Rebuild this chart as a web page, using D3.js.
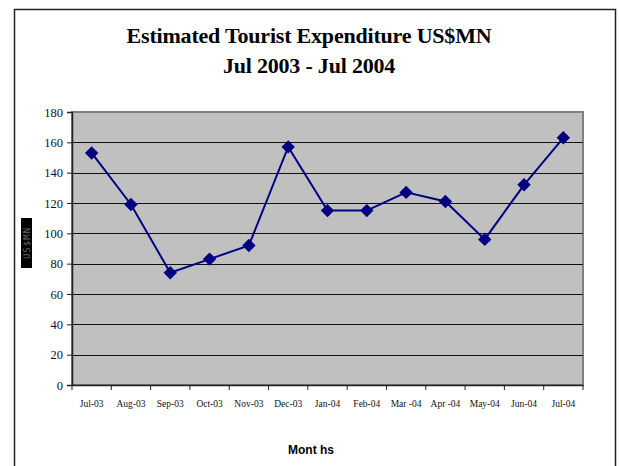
<!DOCTYPE html>
<html><head><meta charset="utf-8">
<script src="https://cdn.jsdelivr.net/npm/d3@7"></script>
<style>body{margin:0;background:#fff}svg{display:block}</style>
</head><body>
<script>
const months = ["Jul-03","Aug-03","Sep-03","Oct-03","Nov-03","Dec-03","Jan-04","Feb-04","Mar -04","Apr -04","May-04","Jun-04","Jul-04"];
const expenditure = [153,119,74,83,92,157,115,115,127,121,96,132,163];
const yTicks = [0,20,40,60,80,100,120,140,160,180];
const titleLines = ["Estimated Tourist  Expenditure US$MN","Jul 2003 - Jul 2004"];
const xTitle = "Mont hs";
const yTitle = "US$MN";

const W=619,H=466;
const svg=d3.select("body").append("svg").attr("width",W).attr("height",H);
svg.append("rect").attr("x",14.5).attr("y",9.5).attr("width",601).attr("height",470)
  .attr("fill","#fff").attr("stroke","#222").attr("stroke-width",1.5);

const m={l:72,r:583,t:112,b:385};
const x=d3.scaleBand().domain(months).range([m.l,m.r]);
const y=d3.scaleLinear().domain([0,180]).range([m.b,m.t]);

svg.append("rect").attr("x",m.l).attr("y",m.t).attr("width",m.r-m.l).attr("height",m.b-m.t)
  .attr("fill","#c0c0c0").attr("stroke","#808080").attr("stroke-width",2);

svg.append("g").selectAll("line").data(yTicks.filter(d=>d>0&&d<180)).join("line")
  .attr("x1",m.l).attr("x2",m.r).attr("y1",d=>Math.round(y(d))+0.5).attr("y2",d=>Math.round(y(d))+0.5)
  .attr("stroke","#111").attr("stroke-width",1.2);

const ya=svg.append("g").attr("transform",`translate(${m.l},0)`)
  .call(d3.axisLeft(y).tickValues(yTicks).tickSize(5).tickPadding(4));
ya.select(".domain").attr("stroke","#222").attr("stroke-width",1.5);
ya.selectAll(".tick line").attr("stroke","#222");
ya.selectAll("text").attr("font-family","Liberation Serif").attr("font-size",12.5).attr("fill","#111");

const xa=svg.append("g").attr("transform",`translate(0,${m.b})`)
  .call(d3.axisBottom(x).tickSize(0).tickPadding(15));
xa.select(".domain").attr("stroke","#222").attr("stroke-width",1.5);
xa.selectAll("text").attr("font-family","Liberation Serif").attr("font-size",9.5).attr("fill","#111");
svg.append("g").selectAll("line").data(months.concat(["end"])).join("line")
  .attr("x1",(d,i)=>m.l+i*x.step()).attr("x2",(d,i)=>m.l+i*x.step())
  .attr("y1",m.b).attr("y2",m.b+5).attr("stroke","#222");

const cx=d=>x(d)+x.bandwidth()/2;
svg.append("path").datum(expenditure)
  .attr("d",d3.line().x((d,i)=>cx(months[i])).y(d=>y(d)))
  .attr("fill","none").attr("stroke","#000080").attr("stroke-width",2);
svg.append("g").selectAll("path").data(expenditure).join("path")
  .attr("d",d3.symbol(d3.symbolSquare,90))
  .attr("transform",(d,i)=>`translate(${cx(months[i])},${y(d)}) rotate(45)`)
  .attr("fill","#000080");

svg.append("g").selectAll("text").data(titleLines).join("text")
  .attr("x",309).attr("y",(d,i)=>43+i*30).attr("text-anchor","middle")
  .attr("font-family","Liberation Serif").attr("font-weight","bold").attr("font-size",22)
  .attr("letter-spacing",-0.2).attr("fill","#000").text(d=>d);

svg.append("text").attr("x",311).attr("y",454).attr("text-anchor","middle")
  .attr("font-family","Liberation Sans").attr("font-weight","bold").attr("font-size",12)
  .attr("fill","#000").text(xTitle);

svg.append("rect").attr("x",21).attr("y",218).attr("width",11).attr("height",50).attr("fill","#000");
svg.append("text").attr("transform","translate(30,243) rotate(-90)").attr("text-anchor","middle")
  .attr("font-family","DejaVu Sans Mono").attr("font-size",9).attr("fill","#666").attr("letter-spacing",1)
  .text(yTitle);
</script>
</body></html>
